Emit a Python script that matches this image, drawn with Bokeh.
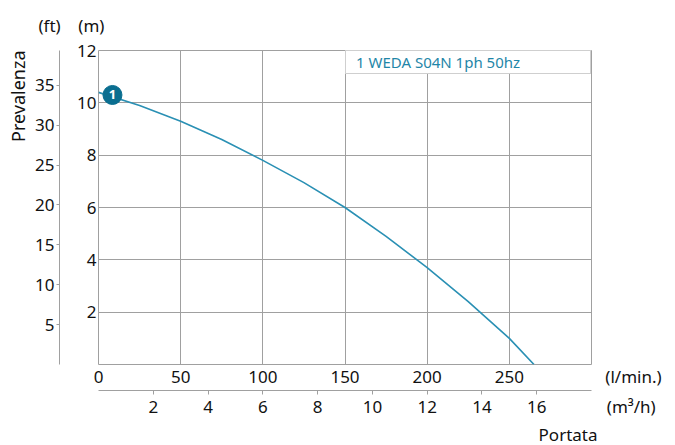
import math
from bokeh.plotting import figure
from bokeh.models import (LinearAxis, Range1d, FixedTicker, Legend, LegendItem, Title)
from bokeh.core.properties import value
from bokeh.embed import file_html
from bokeh.resources import INLINE

# ---- data ----
flow_lmin = [0, 25, 50, 75, 100, 125, 150, 175, 200, 225, 250, 265]
head_m = [10.4, 9.9, 9.3, 8.6, 7.8, 6.95, 6.0, 4.9, 3.7, 2.4, 1.0, 0.0]
series_name = "1 WEDA S04N 1ph 50hz"
marker_flow = [8.5]
marker_head = [10.3]
marker_text = ["1"]

x_ticks_lmin = [0, 50, 100, 150, 200, 250]
x_ticks_m3h = [2, 4, 6, 8, 10, 12, 14, 16]
y_ticks_m = [2, 4, 6, 8, 10, 12]
y_ticks_ft = [5, 10, 15, 20, 25, 30, 35]

unit_ft, unit_m = "(ft)", "(m)"
unit_lmin, unit_m3h = "(l/min.)", "(m³/h)"
x_title = "Portata"
y_title = "Prevalenza"

X_MAX_LMIN = 300
X_MAX_M3H = 18
Y_MAX_M = 12
FT_PER_M = 1 / 0.3048

FONT = "Noto Sans"
TXT = "#111111"
GRID = "#a0a0a0"
LINE = "#2a90b4"
TEAL_TEXT = "#1f86a8"
MARKER = "#0a6e90"
NB = "\u00a0"

W, H = 675, 445
BL, BR, BT, BB = 98, 84, 50, 81

p = figure(width=W, height=H,
           x_range=Range1d(0, X_MAX_LMIN), y_range=Range1d(0, Y_MAX_M),
           output_backend="svg", toolbar_location=None,
           min_border_left=BL, min_border_right=BR,
           min_border_top=BT, min_border_bottom=BB)
p.background_fill_color = "white"
p.border_fill_color = "white"
p.outline_line_color = GRID
p.outline_line_width = 1

p.extra_x_ranges = {"m3h": Range1d(0, X_MAX_M3H)}
p.extra_y_ranges = {"ft": Range1d(0, Y_MAX_M * FT_PER_M)}

# main x axis (l/min); the unit sits at the axis end
xa = p.xaxis[0]
xa.ticker = FixedTicker(ticks=x_ticks_lmin + [X_MAX_LMIN])
xa.major_label_overrides = {X_MAX_LMIN: NB * 19 + unit_lmin}
xa.axis_line_color = None
xa.major_tick_line_color = None
xa.minor_tick_line_color = None
xa.major_label_standoff = -6
xa.major_label_text_font = FONT
xa.major_label_text_font_size = "17px"
xa.major_label_text_color = TXT

# main y axis (m)
ya = p.yaxis[0]
ya.ticker = FixedTicker(ticks=y_ticks_m)
ya.axis_line_color = None
ya.major_tick_line_color = None
ya.minor_tick_line_color = None
ya.major_label_standoff = -4
ya.major_label_text_font = FONT
ya.major_label_text_font_size = "17px"
ya.major_label_text_color = TXT
ya.axis_label = " "
ya.axis_label_standoff = 1
ya.axis_label_text_font_size = "10px"

p.xgrid.ticker = FixedTicker(ticks=[50, 100, 150, 200, 250])
p.ygrid.ticker = FixedTicker(ticks=[2, 4, 6, 8, 10])
p.grid.grid_line_color = GRID
p.grid.grid_line_width = 1

# feet axis
fa = LinearAxis(y_range_name="ft", ticker=FixedTicker(ticks=y_ticks_ft))
fa.axis_line_color = GRID
fa.major_tick_line_color = GRID
fa.major_tick_in = 0
fa.major_tick_out = 3
fa.minor_tick_line_color = None
fa.major_label_standoff = 2
fa.major_label_text_font = FONT
fa.major_label_text_font_size = "17px"
fa.major_label_text_color = TXT
p.add_layout(fa, "left")

# "Prevalenza", left of the feet axis
p.add_layout(Title(text=y_title, align="right", offset=0, vertical_align="bottom",
                   standoff=6, text_font=FONT, text_font_size="18px",
                   text_font_style="normal", text_color=TXT), "left")

# "(ft)   (m)" above the axes
p.add_layout(Title(text=unit_ft + NB * 4 + unit_m, align="left", offset=-60,
                   vertical_align="top", standoff=24, text_font=FONT,
                   text_font_size="17px", text_font_style="normal",
                   text_color=TXT), "above")

# m3/h axis (visible tick marks drawn as minor ticks; unit label at axis end)
ma = LinearAxis(x_range_name="m3h",
                ticker=FixedTicker(ticks=x_ticks_m3h + [X_MAX_M3H], minor_ticks=x_ticks_m3h))
ma.major_label_overrides = {X_MAX_M3H: NB * 18 + unit_m3h}
ma.axis_line_color = GRID
ma.major_tick_line_color = None
ma.major_tick_in = 0
ma.major_tick_out = 4
ma.minor_tick_line_color = GRID
ma.minor_tick_in = 0
ma.minor_tick_out = 4
ma.major_label_standoff = 0
ma.major_label_text_font = FONT
ma.major_label_text_font_size = "17px"
ma.major_label_text_color = TXT
p.add_layout(ma, "below")

# "Portata" under the axes, right side
p.add_layout(Title(text=x_title, align="right", offset=-6, vertical_align="bottom",
                   standoff=0, text_font=FONT, text_font_size="17px",
                   text_font_style="normal", text_color=TXT), "below")

# curve
r = p.line(flow_lmin, head_m, line_color=LINE, line_width=1.6)
p.scatter(marker_flow, marker_head, size=19, fill_color=MARKER, line_color=MARKER)
p.text(marker_flow, marker_head, text=marker_text, text_color="white",
       text_font=value(FONT), text_font_size="13px", text_font_style="bold",
       text_align="center", text_baseline="middle")

legend = Legend(items=[LegendItem(label=series_name, renderers=[r])],
                location="top_right", margin=0, padding=1,
                glyph_width=0, glyph_height=15, label_standoff=9,
                label_width=233, label_height=15,
                border_line_color=GRID, border_line_width=1,
                background_fill_color="white", background_fill_alpha=1.0,
                label_text_color=TEAL_TEXT, label_text_font=FONT,
                label_text_font_size="15px")
p.add_layout(legend)

open("out.html", "w").write(file_html(p, INLINE))
